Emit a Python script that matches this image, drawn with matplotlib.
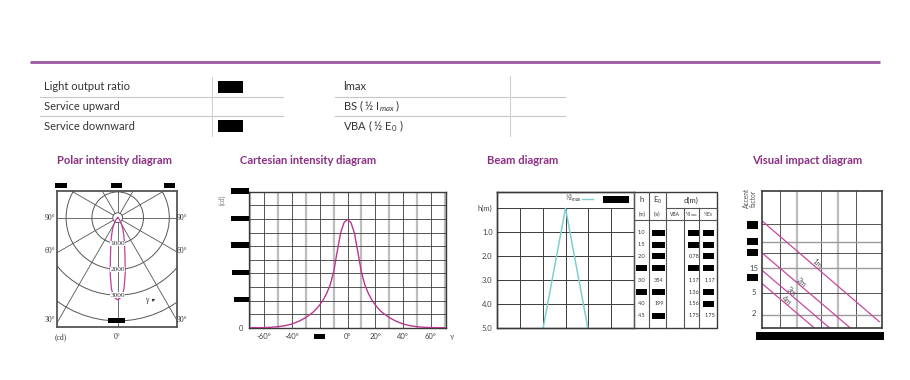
import matplotlib
matplotlib.use("Agg")
import matplotlib.pyplot as plt
import numpy as np
from matplotlib.patches import Rectangle, Circle

plt.rcParams['font.family'] = ['Lato', 'DejaVu Sans']
plt.rcParams['mathtext.fontset'] = 'custom'
plt.rcParams['mathtext.rm'] = 'Lato'
plt.rcParams['mathtext.it'] = 'Lato:italic'

W, H = 910, 380

# ---------------- data ----------------
left_rows = ["Light output ratio", "Service upward", "Service downward"]
right_rows = ["lmax", "BS ( ½ I$_{max}$ )", "VBA ( ½ E$_0$ )"]
section_titles = ["Polar intensity diagram", "Cartesian intensity diagram",
                  "Beam diagram", "Visual impact diagram"]

# luminous intensity distribution (cd) vs gamma (deg)
gamma_deg = [-70, -65, -60, -55, -50, -45, -40, -35, -30, -25, -22.5, -20, -17.5, -15,
             -12.5, -10, -7.5, -5, -2.5, 0, 2.5, 5, 7.5, 10, 12.5, 15, 17.5, 20, 22.5,
             25, 30, 35, 40, 45, 50, 55, 60, 65, 70]
intensity_cd = [0, 0, 4, 12, 30, 60, 110, 190, 300, 450, 550, 670, 820, 1010,
                1260, 1640, 2220, 2780, 3090, 3185, 3090, 2780, 2220, 1640, 1260, 1010,
                820, 670, 550, 450, 300, 190, 110, 60, 30, 12, 4, 0, 0]

polar_rings = [1000, 2000, 3000, 4000]
polar_ring_labels = ["1000", "2000", "3000"]
cart_xticks = [-60, -40, -20, 0, 20, 40, 60]
cart_xticklabels = ["-60°", "-40°", "", "0°", "20°", "40°", "60°"]

# beam diagram table
beam_h = ["1.0", "1.5", "2.0", None, "3.0", None, "4.0", "4.5"]
beam_e0 = [None, None, None, None, "354", None, "199", None]
beam_d_half_imax = [None, None, "0.78", None, "1.17", "1.36", "1.56", "1.75"]
beam_d_half_e0 = [None, None, None, None, "1.17", None, None, "1.75"]
beam_yticklabels = ["h(m)", "1.0", "2.0", "3.0", "4.0", "5.0"]
beam_last_h = 4.5
beam_last_d = 1.75

# visual impact diagram
vi_labels = ["1m", "2m", "3m", "4m"]
vi_start_y = [0.783, 0.549, 0.422, 0.325]
vi_end_x = [0.978, 0.734, 0.562, 0.435]
vi_end_y = [0.044, 0.0, 0.0, 0.0]
vi_ticklabels = ["15", "5", "2"]

# ---------------- figure ----------------
fig = plt.figure(figsize=(9.1, 3.8), dpi=100)


def rect(l, t, r, b):
    return [l / W, 1 - b / H, (r - l) / W, (b - t) / H]


PURPLE = '#8a2f82'
PINK = '#c23d9c'
DARK = '#3a3a3a'
GRAYL = '#bdbdbd'

# ---- polar ----
cx, cy = 117.7, 217.7
cdpp = 1000 / 25.8
l, t, r, b = 57.3, 191, 176.7, 327
axp = fig.add_axes(rect(l, t, r, b))
axp.set_xlim((l - cx) * cdpp, (r - cx) * cdpp)
axp.set_ylim((cy - b) * cdpp, (cy - t) * cdpp)
for ring in polar_rings:
    axp.add_patch(Circle((0, 0), ring, fill=False, ec='#555555', lw=0.7, zorder=2))
for a in range(0, 360, 30):
    th = np.radians(a)
    axp.plot([0, 9000 * np.sin(th)], [0, -9000 * np.cos(th)], color='#555555', lw=0.6, zorder=2)
axp.add_patch(Circle((0, 0), 190, fc='white', ec='#555555', lw=0.7, zorder=3))
th = np.radians(gamma_deg)
I = np.array(intensity_cd)
axp.plot(I * np.sin(th), -I * np.cos(th), color=PINK, lw=0.9, zorder=4)
for lab, ring in zip(polar_ring_labels, polar_rings):
    axp.text(0, -ring, lab, fontsize=5.3, family='Liberation Serif', color='#333',
             ha='center', va='center', zorder=5,
             bbox=dict(fc='white', ec='none', pad=0.2))
axp.set_xticks([]); axp.set_yticks([])
for s in axp.spines.values():
    s.set_color('#555555'); s.set_linewidth(1.3)

# ---- cartesian ----
axc = fig.add_axes(rect(249, 191.7, 446, 327.7))
axc.set_xlim(-71, 71)
axc.set_ylim(0, 4000)
for g in range(-70, 71, 10):
    if (g // 10) % 2:
        axc.axvline(g, color=GRAYL, lw=1.6, zorder=1)
    else:
        axc.axvline(g, color=DARK, lw=0.6, zorder=1)
for v in range(400, 4000, 400):
    axc.axhline(v, color=DARK, lw=0.6, zorder=1)
axc.plot(gamma_deg, intensity_cd, color='#b8378f', lw=1.0, zorder=3)
axc.set_xticks(cart_xticks, cart_xticklabels)
axc.set_yticks([0], ["0"])
axc.tick_params(length=0, labelsize=5.5, colors='#444', pad=4)
for s in axc.spines.values():
    s.set_color(DARK); s.set_linewidth(1.0)

# ---- beam ----
bl, bt, bb = 496.7, 191.7, 327.7
ppm = (327.7 - 208.3) / 5
axb = fig.add_axes(rect(bl, bt, 634.3, bb))
axb.set_xlim(-3, 3)
axb.set_ylim(5, -(208.3 - bt) / ppm)
axb.hlines([0, 1, 2, 3, 4], -3, 3, color=DARK, lw=0.7)
axb.vlines([-2, -1, 0, 1, 2], 0, 5, color=DARK, lw=0.7)
xe = beam_last_d / 2 / beam_last_h * 5
axb.plot([-xe, 0, xe], [5, 0, 5], color='#7fcfcf', lw=1.1)
axb.set_xticks([])
axb.set_yticks([0, 1, 2, 3, 4, 5], beam_yticklabels)
axb.tick_params(length=0, labelsize=5.5, colors='#444', pad=3)
for s in axb.spines.values():
    s.set_color(DARK); s.set_linewidth(1.0)

# ---- visual impact ----
axv = fig.add_axes(rect(761.7, 191, 882, 327.7))
axv.set_xlim(0, 1); axv.set_ylim(0, 1)
for x in [0.152, 0.493, 0.784]:
    axv.axvline(x, color=DARK, lw=0.6)
for x in [0.291, 0.637]:
    axv.axvline(x, color=GRAYL, lw=1.6)
for y in [0.756, 0.549, 0.256]:
    axv.axhline(y, color=DARK, lw=0.6)
for y in [0.629, 0.435, 0.093]:
    axv.axhline(y, color='#9a9a9a', lw=1.0)
label_x = [0.46, 0.33, 0.25, 0.21]
for lab, y0, x1, y1, lx in zip(vi_labels, vi_start_y, vi_end_x, vi_end_y, label_x):
    axv.plot([0, x1], [y0, y1], color='#c8489e', lw=0.9)
    ly = y0 + (y1 - y0) * lx / x1 + 0.03
    axv.text(lx, ly, lab, fontsize=5.5, color='#555', rotation=-40.5,
             ha='center', va='center', rotation_mode='anchor')
axv.set_xticks([]); axv.set_yticks([])
for s in axv.spines.values():
    s.set_color(DARK); s.set_linewidth(1.2)

# ---- overlay (pixel coordinates) ----
ov = fig.add_axes([0, 0, 1, 1], zorder=10)
ov.set_xlim(0, W); ov.set_ylim(H, 0)
ov.axis('off')


def box(x0, y0, x1, y1):
    ov.add_patch(Rectangle((x0, y0), x1 - x0, y1 - y0, fc='black', ec='none'))


# header line
ov.plot([30, 880], [62, 62], color='#9b5a9e', lw=2, solid_capstyle='butt')

row_y = [87, 106, 126]
for yy, lab in zip(row_y, left_rows):
    ov.text(44, yy, lab, fontsize=8, color='#333', va='center')
for yy, lab in zip(row_y, right_rows):
    ov.text(343, yy, lab, fontsize=8, color='#333', va='center')
for yy in [97, 116]:
    ov.plot([40, 283], [yy, yy], color='#c8c8c8', lw=0.8)
    ov.plot([335, 565], [yy, yy], color='#c8c8c8', lw=0.8)
ov.plot([212, 212], [77, 136], color='#d0d0d0', lw=0.8)
ov.plot([510, 510], [76, 136], color='#d0d0d0', lw=0.8)
box(218, 81, 243, 93)
box(218, 120, 243, 132)

# section titles
for x, tt in zip([57, 240, 487, 752], section_titles):
    ov.text(x, 160, tt, fontsize=8.1, fontweight='bold', color=PURPLE, va='center')

# polar decorations
for yy, lab in zip([218, 251, 320], ["90°", "60°", "30°"]):
    ov.text(50, yy, lab, fontsize=5.5, family='Liberation Serif', color='#333', ha='center', va='center')
    ov.text(182, yy, lab, fontsize=5.5, family='Liberation Serif', color='#333', ha='center', va='center')
ov.text(61, 337, "(cd)", fontsize=5.5, family='Liberation Serif', color='#333', ha='center', va='center')
ov.text(117.5, 337, "0°", fontsize=5.5, family='Liberation Serif', color='#333', ha='center', va='center')
box(55, 182.5, 66.7, 187.5)
box(111, 182.5, 121.7, 187.5)
box(164.3, 182.5, 175, 187.5)
box(108.3, 317.7, 125, 322.5)
ov.text(147, 300, "γ", fontsize=5.5, family='Liberation Serif', color='#333', ha='center', va='center')
ov.annotate('', xy=(158, 299), xytext=(150.5, 300.5),
            arrowprops=dict(arrowstyle='-|>', lw=0.5, color='#333', mutation_scale=4))

# cartesian decorations
ov.text(222, 200, "(cd)", fontsize=4.8, color='#777', rotation=90, ha='center', va='center')
for yc, x0 in zip([190.8, 218.3, 245, 272.5, 299.2], [231, 231, 231, 231.5, 234.3]):
    box(x0, yc - 2.7, 248.5, yc + 2.7)
box(314.3, 333.5, 325, 338.5)
ov.text(452, 336, "γ", fontsize=5.5, color='#555', ha='center', va='center')

# beam table
ov.plot([bl, 717.3, 717.3, bl, bl], [bt, bt, bb, bb, bt], color=DARK, lw=1.0)
for x in [634.3, 649.3, 665.7]:
    ov.plot([x, x], [bt, bb], color='#555', lw=0.8)
for x in [684.3, 699]:
    ov.plot([x, x], [208, bb], color='#555', lw=0.8)
ov.plot([665.7, 717.3], [208, 208], color='#555', lw=0.8)
ov.plot([634.3, 717.3], [220, 220], color='#555', lw=0.8)
hdr = dict(fontsize=5.5, color='#333', ha='center', va='center')
ov.text(641.8, 200, "h", **hdr)
ov.text(657.5, 200, "E$_0$", **hdr)
ov.text(691.5, 200, "d(m)", **hdr)
sub = dict(fontsize=3.6, color='#333', ha='center', va='center')
ov.text(641.8, 214, "(m)", **sub)
ov.text(657.5, 214, "(lx)", **sub)
ov.text(675, 214, "VBA", **sub)
ov.text(691.7, 214, "½I$_{max}$", **sub)
ov.text(708.2, 214, "½E$_0$", **sub)
cell = dict(fontsize=4, color='#333', ha='center', va='center')
for i in range(8):
    yy = 232.7 + i * 11.86
    if beam_h[i] is None:
        box(636, yy - 3, 646.5, yy + 3)
    else:
        ov.text(641.8, yy, beam_h[i], **cell)
    if beam_e0[i] is None:
        box(651.7, yy - 3, 665, yy + 3)
    else:
        ov.text(659, yy, beam_e0[i], **cell)
    if beam_d_half_imax[i] is None:
        box(687.7, yy - 3, 699, yy + 3)
    else:
        ov.text(694, yy, beam_d_half_imax[i], **cell)
    if beam_d_half_e0[i] is None:
        box(702.5, yy - 3, 714, yy + 3)
    else:
        ov.text(710, yy, beam_d_half_e0[i], **cell)
# legend
ov.text(573, 198.5, "½I$_{max}$", fontsize=4.8, color='#333', ha='center', va='center')
ov.plot([581.7, 593.3], [198.5, 198.5], color='#7fcfcf', lw=1.0)
box(603.3, 195.5, 629.3, 202.5)

# visual impact decorations
box(756, 332.3, 884, 340)
for yc in [225, 241.7, 252.7, 277.3]:
    box(746.7, yc - 3.7, 758, yc + 3.7)
for yy, lab in zip([268.5, 292.7, 313], vi_ticklabels):
    ov.text(754, yy, lab, fontsize=5.5, color='#444', ha='center', va='center')
ov.text(750, 198, "Accent\nfactor", fontsize=4.8, color='#555', rotation=90,
        ha='center', va='center', linespacing=0.9)

fig.savefig("out.png", dpi=100)
